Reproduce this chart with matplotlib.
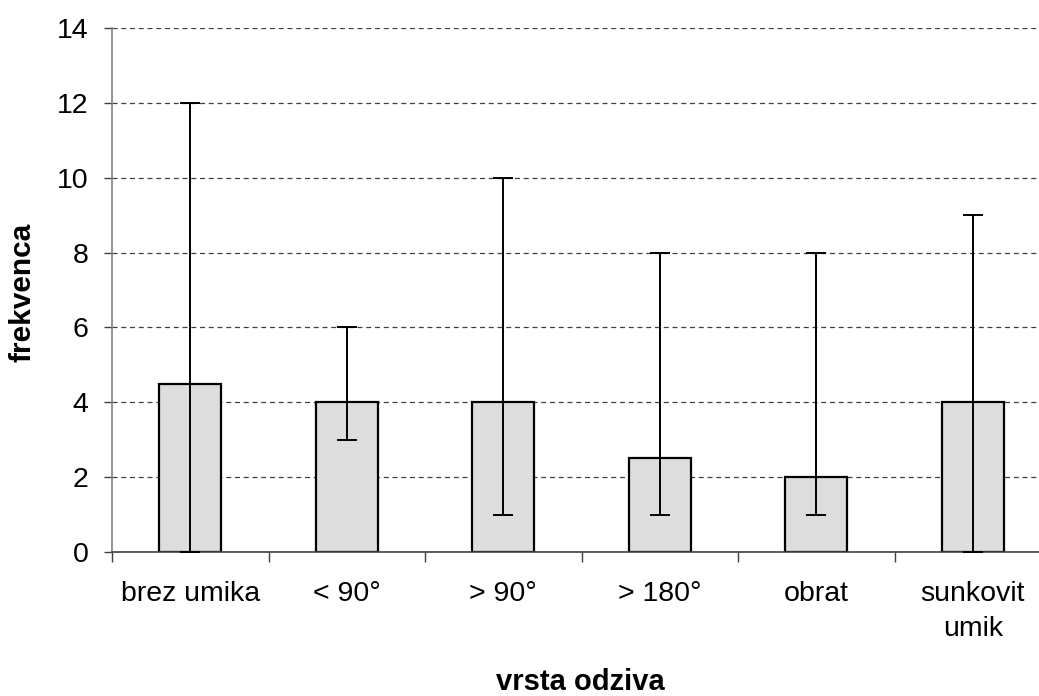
import matplotlib
matplotlib.use("Agg")
import matplotlib.pyplot as plt
import numpy as np

categories = ["brez umika", "< 90°", "> 90°", "> 180°", "obrat", "sunkovit\numik"]
values = [4.5, 4.0, 4.0, 2.5, 2.0, 4.0]
mins = [0, 3, 1, 1, 1, 0]
maxs = [12, 6, 10, 8, 8, 9]
yticks = [0, 2, 4, 6, 8, 10, 12, 14]

plt.rcParams['font.family'] = ['Liberation Sans', 'DejaVu Sans']

fig = plt.figure(figsize=(10.39, 6.96), dpi=100)
W, H = 1039, 696
ax = fig.add_axes([112 / W, (H - 552) / H, 939 / W, 524 / H])

x = np.arange(len(categories))
vals = np.array(values)
yerr = np.array([vals - np.array(mins), np.array(maxs) - vals])

ax.set_axisbelow(True)
ax.yaxis.grid(True, linestyle=(0, (4, 3)), color='#404040', linewidth=0.9)
ax.bar(x, vals, width=0.395, color='#dddddd', edgecolor='black', linewidth=1.6, zorder=2)
ax.errorbar(x, vals, yerr=yerr, fmt='none', ecolor='black', elinewidth=1.4,
            capsize=7, capthick=1.4, zorder=3)

ax.set_xlim(-0.5, 5.5)
ax.set_ylim(0, 14)
ax.set_yticks(yticks)
ax.set_yticklabels([str(t) for t in yticks])
ax.set_xticks(x)
ax.set_xticklabels(categories, linespacing=1.42)
ax.set_xticks(np.arange(-0.5, 6.0, 1.0), minor=True)

for s in ['top', 'right']:
    ax.spines[s].set_visible(False)
ax.spines['left'].set_color('#808080')
ax.spines['left'].set_linewidth(1.2)
ax.spines['bottom'].set_color('#404040')
ax.spines['bottom'].set_linewidth(1.2)

ax.tick_params(axis='y', labelsize=20.5, length=6, width=1, color='#404040', pad=11)
ax.tick_params(axis='x', which='major', labelsize=20.5, length=0, pad=21)
ax.tick_params(axis='x', which='minor', length=7, width=1, color='#404040')

fig.text(23 / W, 1 - 292 / H, "frekvenca", rotation=90, ha='center', va='center',
         fontsize=21.5, fontweight='bold')
fig.text(580 / W, 6 / H, "vrsta odziva", ha='center', va='baseline',
         fontsize=21, fontweight='bold')

fig.savefig("out.png", dpi=100)
